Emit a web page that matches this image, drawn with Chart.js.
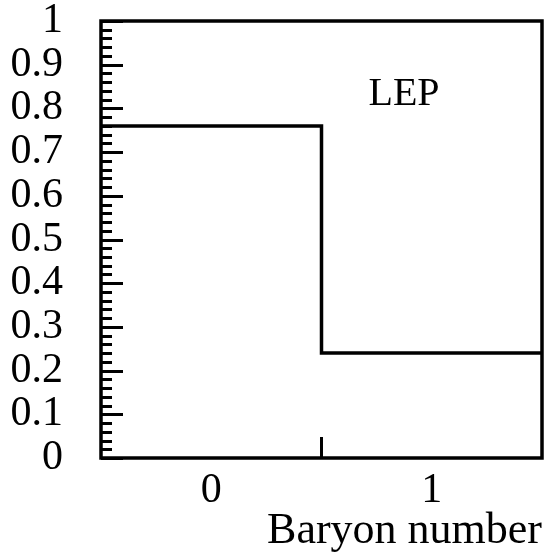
<!DOCTYPE html>
<html>
<head>
<meta charset="utf-8">
<title>Baryon number</title>
<script src="https://cdn.jsdelivr.net/npm/chart.js@4.4.1/dist/chart.umd.min.js"></script>
<style>
  html, body { margin: 0; padding: 0; background: #fff; }
  #wrap { width: 549px; height: 553px; }
</style>
</head>
<body>
<div id="wrap"><canvas id="baryonChart" width="549" height="553"></canvas></div>
<script>
// bins of the histogram and the fraction in each
const binCenters = [0, 1];
const fractions = [0.76, 0.24];
const xTickLabels = ["0", "1"];
const yTickLabels = ["0", "0.1", "0.2", "0.3", "0.4", "0.5", "0.6", "0.7", "0.8", "0.9", "1"];
const experiment = "LEP";
const xTitle = "Baryon number";

const serif = "'Liberation Serif', 'Times New Roman', serif";

// step outline: one point per bin edge, last bin closed at its right edge
const outline = binCenters.map((c, i) => ({ x: c - 0.5, y: fractions[i] }));
outline.push({ x: binCenters[binCenters.length - 1] + 0.5, y: fractions[fractions.length - 1] });

// frame, inward ticks and the label inside the plot
const framePlugin = {
  id: "frame",
  afterDraw(chart) {
    const { ctx, chartArea: a, scales } = chart;
    const y = scales.y, x = scales.x;
    ctx.save();
    ctx.strokeStyle = "#000";
    ctx.lineWidth = 3.5;
    ctx.strokeRect(a.left, a.top, a.right - a.left, a.bottom - a.top);

    // minor ticks every 0.02, major every 0.1 on the left axis
    ctx.lineWidth = 3;
    for (let i = 0; i <= 50; i++) {
      const py = Math.round(y.getPixelForValue(i / 50)) + 0.5;
      const len = i % 5 === 0 ? 22 : 11;
      ctx.beginPath();
      ctx.moveTo(a.left, py);
      ctx.lineTo(a.left + len, py);
      ctx.stroke();
    }
    // bin boundary tick on the bottom axis
    for (let i = 1; i < binCenters.length; i++) {
      const px = x.getPixelForValue((binCenters[i - 1] + binCenters[i]) / 2);
      ctx.beginPath();
      ctx.moveTo(px, a.bottom);
      ctx.lineTo(px, a.bottom - 21);
      ctx.stroke();
    }

    ctx.fillStyle = "#000";
    ctx.font = "40px " + serif;
    ctx.textAlign = "center";
    ctx.textBaseline = "middle";
    ctx.fillText(experiment, 404, 94);
    ctx.restore();
  }
};

new Chart(document.getElementById("baryonChart").getContext("2d"), {
  type: "line",
  data: {
    datasets: [{
      data: outline,
      stepped: "before",
      borderColor: "#000",
      borderWidth: 3.5,
      pointRadius: 0,
      fill: false
    }]
  },
  options: {
    responsive: false,
    animation: false,
    layout: { padding: { top: 21, right: 7, left: 0, bottom: 0 } },
    plugins: { legend: { display: false }, tooltip: { enabled: false } },
    scales: {
      x: {
        type: "linear",
        min: binCenters[0] - 0.5,
        max: binCenters[binCenters.length - 1] + 0.5,
        afterBuildTicks: (s) => { s.ticks = binCenters.map((v) => ({ value: v })); },
        afterFit: (s) => { s.height = 95; s.paddingLeft = 0; s.paddingRight = 0; },
        grid: { display: false, drawTicks: false },
        border: { display: false },
        ticks: {
          color: "#000",
          font: { family: serif, size: 42, lineHeight: 1 },
          padding: 12,
          maxRotation: 0,
          autoSkip: false,
          callback: (v, i) => xTickLabels[i]
        },
        title: {
          display: true,
          text: xTitle,
          align: "end",
          color: "#000",
          font: { family: serif, size: 44, lineHeight: 1 },
          padding: { top: 0, bottom: 0 }
        }
      },
      y: {
        min: 0,
        max: 1,
        afterBuildTicks: (s) => { s.ticks = yTickLabels.map((t, i) => ({ value: i / 10 })); },
        afterFit: (s) => { s.width = 101; s.paddingTop = 0; s.paddingBottom = 0; },
        grid: { display: false, drawTicks: false },
        border: { display: false },
        ticks: {
          color: "#000",
          font: { family: serif, size: 42, lineHeight: 1 },
          padding: 38,
          autoSkip: false,
          callback: (v, i) => yTickLabels[i]
        }
      }
    }
  },
  plugins: [framePlugin]
});
</script>
</body>
</html>
